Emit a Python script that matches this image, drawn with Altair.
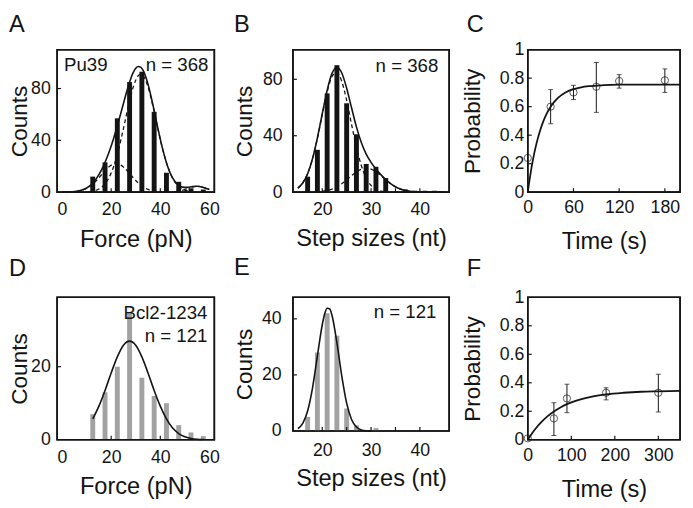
import altair as alt
import pandas as pd

FONT = "Liberation Sans, Arial, Helvetica, sans-serif"
INK = "#141414"
GREY = "#a2a2a2"

# ---------------- Panel A : Pu39 unfolding force ----------------
a_force = [12.5, 17.5, 22.5, 27.5, 32.5, 37.5, 42.5, 47.5, 52.5, 57.5]
a_counts = [12, 23, 57, 85, 93, 62, 15, 8, 3, 2]
a_fit_x = [0, 1, 3, 5, 7, 9, 11, 13, 15, 17, 19, 21, 23, 25, 27, 29, 31, 32, 33,
           35, 37, 39, 41, 43, 45, 47, 49, 51, 53, 55, 57, 59, 60]
a_fit_y = [0.03, 0.05, 0.15, 0.4, 1.0, 2.2, 4.5, 8.1, 13.5, 20.9, 30.3, 41.5, 54.5,
           68.5, 82.0, 92.4, 97.0, 96.5, 94.0, 83.4, 67.4, 49.5, 33.0, 19.9, 11.0,
           6.0, 3.9, 3.7, 4.3, 4.6, 4.0, 2.7, 2.1]
a_g1_x = [3, 5, 7, 9, 11, 13, 15, 17, 19, 21, 22, 23, 25, 27, 29, 31, 33, 35, 37, 39, 41, 43]
a_g1_y = [0.15, 0.4, 0.97, 2.1, 4.1, 7.1, 11.1, 15.6, 19.4, 21.7, 22.0, 21.7, 19.4,
          15.6, 11.1, 7.1, 4.1, 2.1, 0.97, 0.4, 0.15, 0.05]
a_g2_x = [11, 13, 15, 17, 19, 21, 23, 25, 27, 29, 31, 32, 33, 35, 37, 39, 41, 43,
          45, 47, 49, 51, 53]
a_g2_y = [0.35, 0.96, 2.4, 5.35, 10.8, 19.8, 32.8, 49.1, 66.4, 81.3, 89.9, 91.0,
          89.9, 81.3, 66.4, 49.1, 32.8, 19.8, 10.8, 5.35, 2.4, 0.96, 0.35]
a_g3_x = [41, 43, 45, 47, 49, 51, 53, 55, 57, 59, 60]
a_g3_y = [0.01, 0.05, 0.2, 0.61, 1.46, 2.73, 3.97, 4.5, 3.97, 2.73, 2.06]

# ---------------- Panel B : Pu39 step sizes ----------------
b_size = [17, 19, 21, 23, 25, 27, 29, 31, 33, 37, 39, 41, 43]
b_counts = [11, 30, 70, 90, 63, 41, 20, 18, 10, 2, 1, 1, 1]
b_fit_x = [15, 16, 17, 18, 19, 20, 21, 22, 23, 24, 25, 26, 27, 28, 29, 30, 31, 32,
           33, 34, 35, 36, 37, 38, 39, 40, 42, 45]
b_fit_y = [2.9, 6.5, 13.1, 23.7, 38.4, 55.6, 72.2, 84.2, 88.6, 84.5, 73.7, 59.8,
           46.3, 35.2, 27.0, 21.1, 16.4, 12.45, 9.0, 6.1, 3.8, 2.2, 1.2, 0.6, 0.26,
           0.11, 0.01, 0.0]
b_g1_x = [15, 16, 17, 18, 19, 20, 21, 22, 23, 24, 25, 26, 27, 28, 29, 30, 31, 32, 33]
b_g1_y = [2.89, 6.51, 13.1, 23.6, 38.1, 55.0, 71.0, 82.0, 84.8, 78.5, 65.0, 48.1,
          31.9, 18.9, 10.0, 4.77, 2.03, 0.77, 0.26]
b_g2_x = [20, 21, 22, 23, 24, 25, 26, 27, 28, 29, 30, 31, 32, 33, 34, 35, 36, 37,
          38, 39, 40]
b_g2_y = [0.58, 1.18, 2.21, 3.79, 6.0, 8.73, 11.7, 14.4, 16.3, 17.0, 16.3, 14.4,
          11.7, 8.73, 6.0, 3.79, 2.21, 1.18, 0.58, 0.26, 0.11]

# ---------------- Panel C : Pu39 probability vs time ----------------
c_time = [0, 30, 60, 90, 120, 180]
c_prob = [0.24, 0.60, 0.70, 0.74, 0.78, 0.785]
c_err_t = [30, 60, 90, 120, 180]
c_err_lo = [0.48, 0.65, 0.56, 0.73, 0.70]
c_err_hi = [0.72, 0.75, 0.91, 0.825, 0.865]
c_fit_t = [0, 2, 4, 6, 8, 10, 13, 16, 20, 25, 30, 35, 40, 50, 60, 70, 80, 100,
           120, 150, 200]
c_fit_p = [0, 0.0755, 0.143, 0.205, 0.260, 0.309, 0.374, 0.430, 0.492, 0.553,
           0.600, 0.635, 0.663, 0.701, 0.723, 0.736, 0.744, 0.751, 0.754, 0.755, 0.755]

# ---------------- Panel D : Bcl2-1234 unfolding force ----------------
d_force = [12.5, 17.5, 22.5, 27.5, 32.5, 37.5, 42.5, 47.5, 52.5, 57.5]
d_counts = [7, 13, 20, 35, 17, 12, 10, 4, 2, 1]
d_fit_x = [12.5, 15, 17.5, 20, 22.5, 25, 27.5, 30, 32.5, 35, 37.5, 40, 42.5, 45,
           47.5, 50, 52.5, 55, 57.5]
d_fit_y = [5.7, 9.2, 13.5, 18.3, 22.7, 25.9, 27.0, 25.9, 22.7, 18.3, 13.5, 9.2,
           5.7, 3.2, 1.7, 0.8, 0.36, 0.14, 0.05]

# ---------------- Panel E : Bcl2-1234 step sizes ----------------
e_size = [17, 19, 21, 23, 25, 27, 31]
e_counts = [5, 28, 42, 34, 8, 2, 1]
e_fit_x = [15, 16, 17, 18, 19, 20, 20.5, 21, 21.5, 22, 23, 24, 25, 26, 27, 28, 29, 30]
e_fit_y = [0.83, 2.7, 7.1, 15.3, 26.7, 37.9, 41.8, 43.8, 43.6, 41.2, 31.5, 19.6,
           9.9, 4.1, 1.4, 0.37, 0.08, 0.015]

# ---------------- Panel F : Bcl2-1234 probability vs time ----------------
f_time = [0, 60, 90, 180, 300]
f_prob = [0.01, 0.15, 0.29, 0.33, 0.33]
f_err_t = [60, 90, 180, 300]
f_err_lo = [0.03, 0.19, 0.28, 0.195]
f_err_hi = [0.26, 0.39, 0.365, 0.46]
f_fit_t = [0, 10, 20, 30, 45, 60, 75, 90, 110, 130, 150, 180, 220, 260, 300, 350]
f_fit_p = [0, 0.046, 0.086, 0.120, 0.164, 0.199, 0.227, 0.250, 0.273, 0.291,
           0.305, 0.319, 0.330, 0.337, 0.340, 0.343]

PROB_LABEL = ("datum.value == 0 ? '0' : datum.value == 1 ? '1' : "
              "format(datum.value, '.1f')")
LW = 1.6


def axes(xdom, ydom, xtitle, ytitle, xvals, yvals, xpad, ypad, title_y, title_x,
         prob=False):
    xs = alt.Scale(domain=xdom, nice=False, zero=False)
    ys = alt.Scale(domain=ydom, nice=False, zero=False)
    xa = alt.Axis(title=xtitle, values=xvals, format="d", grid=False, domain=False,
                  ticks=False, tickSize=0, labelPadding=xpad, labelFlush=False,
                  labelOverlap=False, labelFontSize=18, labelAngle=0,
                  titleFontSize=24, titleFontWeight="normal", titleY=title_y,
                  titleBaseline="top")
    ykw = dict(title=ytitle, values=yvals, grid=False, domain=False,
               ticks=False, tickSize=0, labelPadding=ypad, labelFlush=False,
               labelOverlap=False, labelFontSize=18, titleFontSize=23,
               titleFontWeight="normal", titleX=title_x, titleAngle=270,
               titleBaseline="bottom", titleAlign="center")
    if prob:
        ykw["labelExpr"] = PROB_LABEL
    else:
        ykw["format"] = "d"
    ya = alt.Axis(**ykw)

    def X(f):
        return alt.X(f"{f}:Q", scale=xs, axis=xa)

    def Y(f):
        return alt.Y(f"{f}:Q", scale=ys, axis=ya)

    return X, Y


def box(w, h):
    # plot-area frame (decoration drawn in pixel space of the panel)
    return alt.Chart(pd.DataFrame({"k": [0]})).mark_rect(
        filled=False, stroke=INK, strokeWidth=LW
    ).encode(x=alt.value(0), x2=alt.value(w), y=alt.value(0), y2=alt.value(h))


def inner_ticks(X, Y, h, xt, yt):
    ty = alt.Chart(pd.DataFrame({"v": yt})).mark_rule(
        color=INK, strokeWidth=1.2
    ).encode(y=Y("v"), x=alt.value(0), x2=alt.value(4))
    tx = alt.Chart(pd.DataFrame({"v": xt})).mark_rule(
        color=INK, strokeWidth=1.2
    ).encode(x=X("v"), y=alt.value(h - 4), y2=alt.value(h))
    return [ty, tx]


def txt(s, x, y, size, align="left"):
    return alt.Chart(pd.DataFrame({"t": [s]})).mark_text(
        align=align, baseline="top", fontSize=size, font=FONT, color=INK
    ).encode(text="t:N", x=alt.value(x), y=alt.value(y))


def line(X, Y, xs, ys, dash=None, width=1.6):
    kw = dict(interpolate="monotone", color=INK, strokeWidth=width)
    if dash is not None:
        kw["strokeDash"] = dash
    return alt.Chart(pd.DataFrame({"x": xs, "y": ys})).mark_line(**kw).encode(
        x=X("x"), y=Y("y"))


def bars(X, Y, xs, ys, color):
    return alt.Chart(pd.DataFrame({"x": xs, "y": ys})).mark_bar(
        size=5, color=color, orient="vertical"
    ).encode(x=X("x"), y=Y("y"))


def prob_layers(X, Y, t, p, et, lo, hi, ft, fp):
    err = pd.DataFrame({"t": et, "lo": lo, "hi": hi})
    rule = alt.Chart(err).mark_rule(color=INK, strokeWidth=1).encode(
        x=X("t"), y=Y("lo"), y2=alt.Y2("hi:Q"))
    cap_lo = alt.Chart(err).mark_tick(orient="horizontal", size=5, thickness=1,
                                      color=INK).encode(x=X("t"), y=Y("lo"))
    cap_hi = alt.Chart(err).mark_tick(orient="horizontal", size=5, thickness=1,
                                      color=INK).encode(x=X("t"), y=Y("hi"))
    fit = line(X, Y, ft, fp, width=1.8)
    pts = alt.Chart(pd.DataFrame({"x": t, "y": p})).mark_point(
        shape="circle", filled=False, size=55, color=INK, strokeWidth=1
    ).encode(x=X("x"), y=Y("y"))
    return [rule, cap_lo, cap_hi, fit, pts]


# ---- A ----
W1, H1 = 160, 145
X, Y = axes([0, 60], [0, 110], "Force (pN)", "Counts", [0, 20, 40, 60], [0, 40, 80],
            9, 7, 36, -26)
A = alt.layer(
    bars(X, Y, a_force, a_counts, INK),
    line(X, Y, a_fit_x, a_fit_y),
    line(X, Y, a_g1_x, a_g1_y, dash=[4, 3], width=1.3),
    line(X, Y, a_g2_x, a_g2_y, dash=[4, 3], width=1.3),
    line(X, Y, a_g3_x, a_g3_y, dash=[5, 2, 1, 2], width=1.3),
    *inner_ticks(X, Y, H1, [20, 40], [40, 80]),
    box(W1, H1),
    txt("Pu39", 7, 7, 19),
    txt("n = 368", 154, 7, 19, align="right"),
    txt("A", -49, -37, 24),
).properties(width=W1, height=H1)

# ---- B ----
W2 = 159
X, Y = axes([15, 45], [0, 101], "Step sizes (nt)", "Counts", [20, 30, 40], [0, 40, 80],
            9, 11, 35, -37)
B = alt.layer(
    bars(X, Y, b_size, b_counts, INK),
    line(X, Y, b_fit_x, b_fit_y),
    line(X, Y, b_g1_x, b_g1_y, dash=[4, 3], width=1.3),
    line(X, Y, b_g2_x, b_g2_y, dash=[4, 3], width=1.3),
    *inner_ticks(X, Y, H1, [20, 25, 30, 35, 40], [40, 80]),
    box(W2, H1),
    txt("n = 368", W2 - 11, 8, 19, align="right"),
    txt("B", -60, -37, 24),
).properties(width=W2, height=H1)

# ---- C ----
W3 = 155
X, Y = axes([0, 200], [0, 1], "Time (s)", "Probability", [0, 60, 120, 180],
            [0, 0.2, 0.4, 0.6, 0.8, 1], 7, 4, 38, -44, prob=True)
C = alt.layer(
    *prob_layers(X, Y, c_time, c_prob, c_err_t, c_err_lo, c_err_hi, c_fit_t, c_fit_p),
    *inner_ticks(X, Y, H1, [60, 120, 180], [0.2, 0.4, 0.6, 0.8]),
    box(W3, H1),
    txt("C", -62, -37, 24),
).properties(width=W3, height=H1)

# ---- D ----
X, Y = axes([0, 60], [0, 39], "Force (pN)", "Counts", [0, 20, 40, 60], [0, 20],
            9, 7, 36, -26)
D = alt.layer(
    bars(X, Y, d_force, d_counts, GREY),
    line(X, Y, d_fit_x, d_fit_y),
    *inner_ticks(X, Y, H1, [20, 40], [20]),
    box(W1, H1),
    txt("Bcl2-1234", W1 - 7, 7.5, 19, align="right"),
    txt("n = 121", W1 - 7, 30.5, 19, align="right"),
    txt("D", -49, -41, 24),
).properties(width=W1, height=H1)

# ---- E ----
HE = 136
X, Y = axes([15, 45], [0, 47.7], "Step sizes (nt)", "Counts", [20, 30, 40], [0, 20, 40],
            11, 12, 37, -37)
E = alt.layer(
    bars(X, Y, e_size, e_counts, GREY),
    line(X, Y, e_fit_x, e_fit_y),
    *inner_ticks(X, Y, HE, [20, 25, 30, 35, 40], [20, 40]),
    box(W2, HE),
    txt("n = 121", W2 - 13, 6, 19, align="right"),
    txt("E", -60, -41.5, 24),
).properties(width=W2, height=HE)

# ---- F ----
X, Y = axes([0, 350], [0, 1], "Time (s)", "Probability", [0, 100, 200, 300],
            [0, 0.2, 0.4, 0.6, 0.8, 1], 7, 4, 39, -44, prob=True)
F = alt.layer(
    *prob_layers(X, Y, f_time, f_prob, f_err_t, f_err_lo, f_err_hi, f_fit_t, f_fit_p),
    *inner_ticks(X, Y, H1, [100, 200, 300], [0.2, 0.4, 0.6, 0.8]),
    box(W3, H1),
    txt("F", -62, -41, 24),
).properties(width=W3, height=H1)

chart = alt.concat(
    A, B, C, D, E, F,
    columns=3,
    spacing={"row": 107, "column": 80},
    bounds="flush",
    align="each",
    center=True,
).properties(
    padding=0
).configure_view(
    stroke=INK, strokeWidth=LW
).configure_axis(
    labelFont=FONT, titleFont=FONT, labelColor=INK, titleColor=INK
).configure_text(font=FONT)

chart.save("out.html", embed_options={"renderer": "svg", "actions": False})
